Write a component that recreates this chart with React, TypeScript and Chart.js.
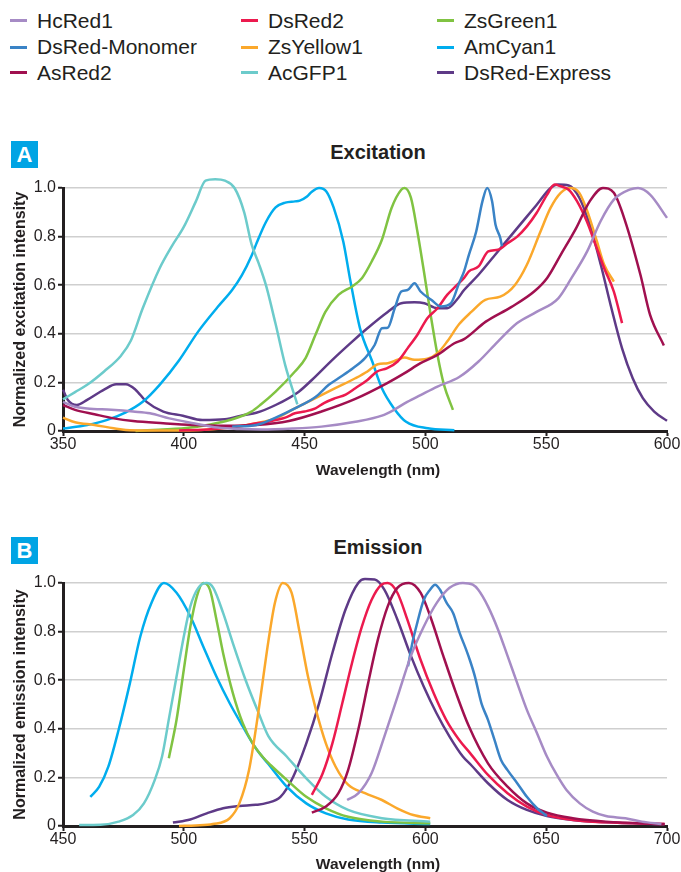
import React, { useEffect, useRef } from 'react';
import { Chart, registerables } from 'chart.js';

Chart.register(...registerables);

type Pt = [number, number];

const FONT = "'Liberation Sans', Arial, Helvetica, sans-serif";
const TEXT = '#231f20';
const PANEL_BLUE = '#00a4e4';

// Legend order (column-major): names and colours
const SERIES_NAMES = [
  'HcRed1', 'DsRed-Monomer', 'AsRed2',
  'DsRed2', 'ZsYellow1', 'AcGFP1',
  'ZsGreen1', 'AmCyan1', 'DsRed-Express',
];
const SERIES_COLORS = [
  '#a68bc5', '#3a83c6', '#a0104f',
  '#ec1a4e', '#fba82b', '#6ccbcb',
  '#80c342', '#00adee', '#5e3a87',
];

// Axis ticks
const EX_X_TICKS = [350, 400, 450, 500, 550, 600];
const EM_X_TICKS = [450, 500, 550, 600, 650, 700];
const Y_TICKS = [0, 0.2, 0.4, 0.6, 0.8, 1.0];

// ---------- Excitation spectra [wavelength nm, normalized intensity] ----------
const EX_HCRED1: Pt[] = [
  [350, 0.12], [355, 0.10], [360, 0.093], [370, 0.087], [379, 0.08], [386, 0.073], [394, 0.052],
  [404, 0.032], [414, 0.014], [423, 0.008], [432, 0.006], [445, 0.01], [457, 0.018], [471, 0.038],
  [482, 0.063], [487, 0.087], [492.5, 0.12], [498, 0.148], [505, 0.183], [514, 0.222], [522, 0.286],
  [530, 0.368], [538, 0.444], [546, 0.49], [555, 0.546], [560.5, 0.63], [567, 0.74], [572.5, 0.863],
  [578, 0.952], [584.5, 0.993], [588, 1.0], [593, 0.973], [600, 0.877],
];
const EX_DSREDMONO: Pt[] = [
  [420, 0.018], [430, 0.025], [438, 0.055], [446, 0.093], [454.5, 0.14], [460, 0.19], [464, 0.217],
  [470, 0.258], [475, 0.3], [479, 0.354], [482, 0.423], [484.4, 0.425], [487.3, 0.505], [490, 0.574],
  [492.6, 0.58], [495.5, 0.608], [498, 0.574], [502.4, 0.54], [506.5, 0.512], [510.6, 0.526],
  [514, 0.61], [516, 0.657], [518, 0.725], [521, 0.82], [523.6, 0.945], [525.6, 1.0], [527.6, 0.945],
  [529, 0.85], [531, 0.794], [531.7, 0.76],
];
const EX_ASRED2: Pt[] = [
  [350, 0.107], [355, 0.087], [363, 0.069], [371, 0.052], [379, 0.041], [391.5, 0.032], [403.7, 0.025],
  [417, 0.022], [430, 0.025], [443.5, 0.041], [457, 0.08], [471, 0.132], [484, 0.196], [491.4, 0.238],
  [498, 0.279], [505, 0.313], [512, 0.361], [516, 0.378], [525, 0.45], [535.5, 0.51], [545, 0.574],
  [550.4, 0.63], [556, 0.725], [562.4, 0.835], [568, 0.945], [573.5, 1.0], [578, 0.98], [582.7, 0.863],
  [589, 0.643], [593, 0.478], [598.7, 0.352],
];
const EX_DSRED2: Pt[] = [
  [398, 0.002], [405, 0.004], [410, 0.006], [415, 0.01], [420, 0.015], [425, 0.022], [430, 0.032],
  [434, 0.036], [438, 0.045], [442, 0.055], [446, 0.073], [450, 0.08], [454.5, 0.093], [458, 0.115],
  [462.7, 0.135], [467, 0.15], [471, 0.176], [476, 0.21], [480, 0.245], [484, 0.258], [488.5, 0.286],
  [492.6, 0.34], [496.7, 0.396], [500.8, 0.464], [505, 0.505], [509, 0.56], [513, 0.6], [516, 0.63],
  [518, 0.657], [522, 0.677], [526, 0.739], [530, 0.746], [534, 0.773], [538, 0.8], [542, 0.842],
  [546, 0.897], [550.4, 0.973], [553.5, 1.014], [556, 1.007], [559.3, 0.993], [562.8, 0.945],
  [566.8, 0.863], [570.4, 0.767], [574, 0.67], [578, 0.574], [581.4, 0.444],
];
const EX_ZSYELLOW1: Pt[] = [
  [350, 0.055], [355, 0.036], [363, 0.025], [371, 0.011], [376, 0.004], [385, 0.002], [400, 0.002],
  [410, 0.006], [420, 0.015], [430, 0.032], [438, 0.052], [446, 0.093], [454.5, 0.135], [462.7, 0.176],
  [471, 0.217], [476, 0.245], [480.3, 0.275], [484.4, 0.279], [488.5, 0.293], [491.4, 0.302],
  [495.5, 0.293], [500.8, 0.297], [505, 0.32], [509, 0.368], [514, 0.44], [519, 0.49], [524.8, 0.54],
  [531, 0.553], [537, 0.6], [542, 0.684], [547.6, 0.82], [551.8, 0.918], [556, 0.98], [560, 1.0],
  [563.7, 0.98], [567, 0.905], [571, 0.78], [574, 0.684], [578, 0.615],
];
const EX_ACGFP1: Pt[] = [
  [350, 0.13], [355, 0.16], [360, 0.19], [367, 0.245], [374, 0.31], [378, 0.37], [383, 0.505],
  [390, 0.67], [395, 0.76], [400, 0.84], [405, 0.945], [409, 1.03], [413, 1.036], [417, 1.03],
  [421, 1.0], [425, 0.9], [428, 0.77], [431, 0.69], [434, 0.6], [438, 0.44], [442, 0.27], [447, 0.11],
];
const EX_ZSGREEN1: Pt[] = [
  [380, 0.0], [385, 0.003], [395, 0.008], [401, 0.012], [411, 0.027], [419, 0.045], [428, 0.08],
  [432, 0.11], [438, 0.162], [446, 0.245], [450.4, 0.3], [454.5, 0.396], [458.6, 0.49], [464, 0.56],
  [469.7, 0.595], [473.8, 0.63], [477.9, 0.7], [482, 0.787], [486, 0.918], [490, 0.993], [491.4, 1.0],
  [494, 0.96], [496.7, 0.82], [499.6, 0.643], [502.4, 0.464], [505, 0.313], [507.7, 0.19], [511.4, 0.087],
];
const EX_AMCYAN1: Pt[] = [
  [350, 0.01], [360, 0.025], [368, 0.045], [376, 0.077], [383, 0.12], [390, 0.19], [398, 0.29],
  [406, 0.41], [414, 0.51], [420, 0.58], [424, 0.64], [428, 0.72], [430, 0.77], [434, 0.86],
  [438, 0.92], [442, 0.94], [446, 0.945], [448, 0.948], [451, 0.965], [453, 0.985], [456, 1.0],
  [459, 0.986], [462, 0.92], [466, 0.78], [469, 0.615], [473, 0.42], [478, 0.286], [482, 0.176],
  [487, 0.093], [492, 0.038], [501, 0.011], [512, 0.003],
];
const EX_DSREDEXP: Pt[] = [
  [350, 0.17], [352, 0.128], [355.7, 0.107], [360, 0.128], [367, 0.17], [372, 0.192], [376, 0.192],
  [380, 0.17], [384.6, 0.12], [391.5, 0.08], [399.6, 0.063], [407.7, 0.045], [417, 0.048], [425, 0.066],
  [430, 0.075], [438, 0.107], [447.6, 0.162], [453, 0.21], [461.5, 0.293], [469.7, 0.368], [476, 0.423],
  [484.4, 0.49], [490, 0.526], [495.5, 0.53], [499.6, 0.526], [505, 0.505], [509, 0.505], [513, 0.54],
  [516, 0.58], [522, 0.643], [530, 0.739], [538, 0.835], [546, 0.93], [551.8, 1.0], [554.9, 1.014],
  [559.3, 1.01], [563.7, 0.96], [568, 0.85], [572.6, 0.684], [577, 0.505], [581.4, 0.34], [585.8, 0.217],
  [590, 0.135], [594.7, 0.08], [600, 0.042],
];

// ---------- Emission spectra ----------
const EM_HCRED1: Pt[] = [
  [567.6, 0.107], [572.3, 0.135], [577.7, 0.217], [583, 0.368], [588.5, 0.533], [594, 0.7], [599.3, 0.82],
  [604.7, 0.918], [610, 0.98], [615.5, 1.0], [619.6, 0.993], [621.8, 0.973], [625.9, 0.904], [630, 0.81],
  [634, 0.7], [638, 0.588], [642, 0.478], [646.2, 0.382], [650.3, 0.286], [654.4, 0.21], [658.4, 0.148],
  [663.9, 0.093], [669.3, 0.059], [674.7, 0.041], [682.8, 0.032], [689.6, 0.018], [697.7, 0.008],
];
const EM_DSREDMONO: Pt[] = [
  [592.8, 0.657], [594.6, 0.753], [596.6, 0.835], [599.3, 0.93], [602, 0.973], [604, 0.993], [606, 0.973],
  [608.8, 0.918], [611.5, 0.876], [614.2, 0.794], [616.9, 0.725], [618.5, 0.68], [620.5, 0.615],
  [623.2, 0.505], [625.9, 0.437], [628.6, 0.354], [631.3, 0.272], [634, 0.23], [638, 0.176], [642, 0.12],
  [646.2, 0.073], [650.3, 0.041],
];
const EM_ASRED2: Pt[] = [
  [553, 0.055], [558.8, 0.08], [564, 0.135], [568, 0.23], [572.2, 0.396], [576.3, 0.588], [580.3, 0.766],
  [584.4, 0.904], [588.4, 0.98], [593.2, 1.0], [598, 0.96], [602, 0.863], [607.4, 0.7], [612.7, 0.547],
  [618, 0.41], [625.9, 0.258], [634, 0.162], [642, 0.093], [650.3, 0.055], [661, 0.032], [674.7, 0.018],
  [699, 0.008],
];
const EM_DSRED2: Pt[] = [
  [553, 0.128], [557.5, 0.217], [561.5, 0.34], [565.6, 0.505], [569.6, 0.67], [573.7, 0.82], [577.7, 0.93],
  [581.8, 0.993], [584.4, 1.0], [588.4, 0.96], [592.5, 0.85], [598, 0.684], [603.4, 0.547], [608.6, 0.437],
  [614, 0.354], [618.5, 0.3], [625.9, 0.21], [634, 0.135], [642, 0.08], [650.3, 0.045], [661, 0.025],
  [674.7, 0.015], [699, 0.008],
];
const EM_ZSYELLOW1: Pt[] = [
  [498, 0.0], [505, 0.002], [512, 0.008], [519, 0.032], [523, 0.093], [527, 0.23], [531, 0.478],
  [533, 0.62], [535, 0.76], [537.7, 0.918], [541, 1.0], [544.6, 0.96], [548, 0.794], [551.4, 0.615],
  [554.7, 0.478], [558.8, 0.34], [562.8, 0.245], [568, 0.17], [575, 0.135], [582, 0.107], [588.3, 0.073],
  [595, 0.045], [602, 0.032],
];
const EM_ACGFP1: Pt[] = [
  [456.7, 0.004], [465.6, 0.005], [473, 0.018], [479, 0.045], [483.5, 0.093], [488, 0.19], [491, 0.286],
  [494, 0.45], [497, 0.615], [500, 0.78], [502.7, 0.904], [506, 0.98], [509.5, 1.0], [512.2, 0.98],
  [516.3, 0.876], [520.3, 0.753], [525.6, 0.6], [531, 0.464], [535, 0.37], [542.6, 0.286], [550.7, 0.196],
  [558.8, 0.12], [568, 0.066], [582, 0.032], [602, 0.018],
];
const EM_ZSGREEN1: Pt[] = [
  [493.8, 0.279], [497, 0.437], [500, 0.643], [502.7, 0.82], [505.4, 0.945], [508, 1.0], [510.8, 0.973],
  [513.5, 0.85], [516.3, 0.71], [520.3, 0.547], [524.4, 0.423], [528.5, 0.34], [532.5, 0.286], [536, 0.25],
  [542.6, 0.19], [550.7, 0.12], [558.8, 0.073], [568, 0.038], [582, 0.018], [602, 0.011],
];
const EM_AMCYAN1: Pt[] = [
  [461.3, 0.12], [465, 0.162], [468.8, 0.245], [473, 0.395], [477.7, 0.588], [482, 0.78], [486.6, 0.918],
  [491.8, 1.0], [497, 0.96], [502.7, 0.863], [508, 0.74], [513.5, 0.615], [519, 0.505], [524.4, 0.41],
  [529.8, 0.32], [535, 0.255], [542.6, 0.162], [550.7, 0.093], [558.8, 0.052], [568, 0.027], [582, 0.014],
  [602, 0.008],
];
const EM_DSREDEXP: Pt[] = [
  [495.5, 0.014], [502.7, 0.027], [509.5, 0.052], [516.3, 0.073], [523, 0.082], [529.8, 0.087],
  [534.5, 0.095], [540, 0.12], [545.3, 0.203], [550.7, 0.34], [556, 0.505], [561.5, 0.712], [566.9, 0.89],
  [572.2, 1.0], [575, 1.016], [579, 1.014], [583, 0.973], [588.4, 0.85], [594, 0.7], [599.3, 0.574],
  [604.6, 0.464], [610, 0.368], [615.5, 0.286], [619, 0.25], [625.9, 0.176], [634, 0.107], [642, 0.066],
  [650.3, 0.041], [661, 0.025], [674.7, 0.015], [699, 0.007],
];

const EXCITATION: Pt[][] = [
  EX_HCRED1, EX_DSREDMONO, EX_ASRED2, EX_DSRED2, EX_ZSYELLOW1, EX_ACGFP1, EX_ZSGREEN1, EX_AMCYAN1, EX_DSREDEXP,
];
const EMISSION: Pt[][] = [
  EM_HCRED1, EM_DSREDMONO, EM_ASRED2, EM_DSRED2, EM_ZSYELLOW1, EM_ACGFP1, EM_ZSGREEN1, EM_AMCYAN1, EM_DSREDEXP,
];

function SpectrumChart(props: { series: Pt[][]; xTicks: number[]; yTitle: string; top: number }) {
  const ref = useRef<HTMLCanvasElement>(null);
  useEffect(() => {
    if (!ref.current) return;
    const { series, xTicks, yTitle } = props;
    const chart = new Chart(ref.current, {
      type: 'line',
      data: {
        datasets: SERIES_NAMES.map((name, i) => ({
          label: name,
          data: series[i].map(([x, y]) => ({ x, y })),
          borderColor: SERIES_COLORS[i],
          backgroundColor: SERIES_COLORS[i],
          borderWidth: 2.5,
          pointRadius: 0,
          pointHoverRadius: 0,
          fill: false,
          cubicInterpolationMode: 'monotone' as const,
          clip: { left: 4, top: 14, right: 4, bottom: 4 } as any,
        })),
      },
      options: {
        responsive: false,
        animation: false,
        devicePixelRatio: 1,
        layout: { padding: { top: 18, left: 0, right: 14, bottom: 9 } },
        plugins: {
          legend: { display: false },
          tooltip: { enabled: false },
          title: { display: false },
        },
        scales: {
          x: {
            type: 'linear',
            min: xTicks[0],
            max: xTicks[xTicks.length - 1],
            afterBuildTicks: (axis: any) => {
              axis.ticks = xTicks.map((v) => ({ value: v }));
            },
            afterFit: (scale: any) => {
              scale.height = 30;
            },
            ticks: {
              font: { family: FONT, size: 16 },
              color: TEXT,
              padding: -1,
              maxRotation: 0,
              autoSkip: false,
              callback: (v: any) => String(v),
            },
            grid: {
              drawOnChartArea: false,
              drawTicks: true,
              tickLength: 5,
              tickColor: TEXT,
              tickWidth: 2,
            },
            border: { display: true, color: TEXT, width: 3 },
          },
          y: {
            type: 'linear',
            min: 0,
            max: 1,
            afterBuildTicks: (axis: any) => {
              axis.ticks = Y_TICKS.map((v) => ({ value: v }));
            },
            afterFit: (scale: any) => {
              scale.width = 63;
            },
            ticks: {
              font: { family: FONT, size: 16 },
              color: TEXT,
              padding: 2,
              autoSkip: false,
              callback: (v: any) => (Number(v) === 0 ? '0' : Number(v).toFixed(1)),
            },
            grid: {
              color: '#cfcfcf',
              lineWidth: 1.5,
              drawTicks: true,
              tickLength: 5,
              tickColor: TEXT,
              tickWidth: 2,
            },
            border: { display: true, color: TEXT, width: 3 },
            title: {
              display: true,
              text: yTitle,
              color: TEXT,
              font: { family: FONT, size: 16, weight: 'bold' },
              padding: { top: 11, bottom: 0 },
            },
          },
        },
      },
    } as any);
    return () => chart.destroy();
  }, []);
  return (
    <canvas
      ref={ref}
      width={681}
      height={300}
      style={{ position: 'absolute', left: 0, top: props.top, width: 681, height: 300, display: 'block' }}
    />
  );
}

function TextAt(props: { cx: number; cy: number; size: number; bold?: boolean; children: React.ReactNode }) {
  const h = Math.round(props.size * 1.4);
  return (
    <div
      style={{
        position: 'absolute',
        left: props.cx - 200,
        width: 400,
        top: props.cy - h / 2,
        height: h,
        lineHeight: h + 'px',
        textAlign: 'center',
        fontFamily: FONT,
        fontSize: props.size,
        fontWeight: props.bold ? 'bold' : 'normal',
        color: TEXT,
        whiteSpace: 'nowrap',
      }}
    >
      {props.children}
    </div>
  );
}

function PanelLabel(props: { letter: string; left: number; top: number }) {
  return (
    <div
      style={{
        position: 'absolute',
        left: props.left,
        top: props.top,
        width: 27,
        height: 27,
        background: PANEL_BLUE,
        color: '#ffffff',
        fontFamily: FONT,
        fontWeight: 'bold',
        fontSize: 22,
        lineHeight: '27px',
        textAlign: 'center',
      }}
    >
      {props.letter}
    </div>
  );
}

const LEGEND_COL_X = [10, 241, 437];
const LEGEND_ROW_Y = [20.7, 47.3, 72.5];

function Legend() {
  return (
    <>
      {SERIES_NAMES.map((name, i) => {
        const col = Math.floor(i / 3);
        const row = i % 3;
        const x = LEGEND_COL_X[col];
        const cy = LEGEND_ROW_Y[row];
        return (
          <div key={name}>
            <div
              style={{
                position: 'absolute',
                left: x,
                top: cy - 1.5,
                width: 17,
                height: 3,
                background: SERIES_COLORS[i],
              }}
            />
            <div
              style={{
                position: 'absolute',
                left: x + 27,
                top: cy - 13,
                height: 26,
                lineHeight: '26px',
                fontFamily: FONT,
                fontSize: 21,
                color: TEXT,
                whiteSpace: 'nowrap',
              }}
            >
              {name}
            </div>
          </div>
        );
      })}
    </>
  );
}

export default function App() {
  return (
    <div style={{ position: 'absolute', left: 0, top: 0, width: 681, height: 872, background: '#ffffff', overflow: 'hidden' }}>
      <Legend />
      <PanelLabel letter="A" left={11} top={141} />
      <TextAt cx={378} cy={152} size={20} bold>Excitation</TextAt>
      <SpectrumChart series={EXCITATION} xTicks={EX_X_TICKS} yTitle="Normalized excitation intensity" top={170} />
      <TextAt cx={378} cy={470} size={15.5} bold>Wavelength (nm)</TextAt>
      <PanelLabel letter="B" left={11} top={537} />
      <TextAt cx={378} cy={547} size={20} bold>Emission</TextAt>
      <SpectrumChart series={EMISSION} xTicks={EM_X_TICKS} yTitle="Normalized emission intensity" top={565} />
      <TextAt cx={378} cy={864} size={15.5} bold>Wavelength (nm)</TextAt>
    </div>
  );
}
